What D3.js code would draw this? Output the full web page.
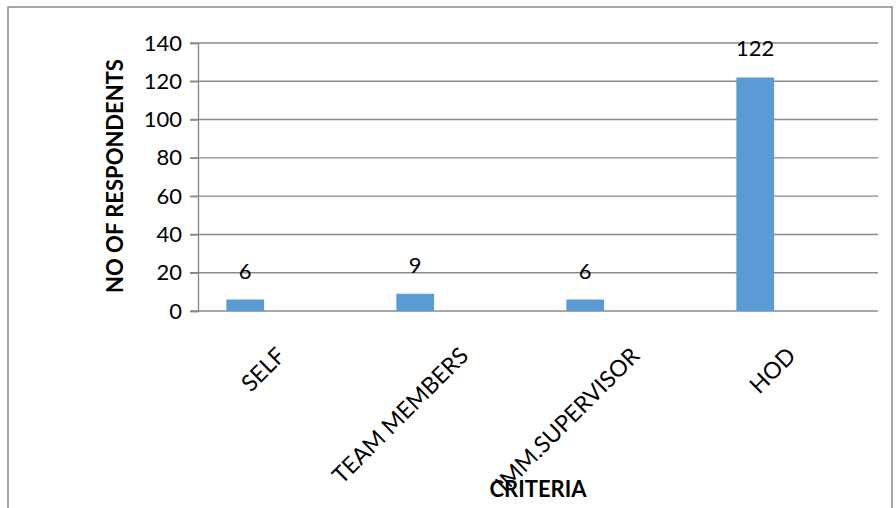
<!DOCTYPE html>
<html>
<head>
<meta charset="utf-8">
<script src="https://cdn.jsdelivr.net/npm/d3@7"></script>
<style>
  body { margin: 0; background: #fff; }
  text { font-family: Lato, "Open Sans", sans-serif; fill: #000; }
</style>
</head>
<body>
<div id="chart"></div>
<script>
// chart data
const categories = ["SELF", "TEAM MEMBERS", "IMM.SUPERVISOR", "HOD"];
const respondents = [6, 9, 6, 122];
const yTicks = [0, 20, 40, 60, 80, 100, 120, 140];
const yTitle = "NO OF RESPONDENTS";
const xTitle = "CRITERIA";

const W = 896, H = 508;
const plot = {left: 198, right: 878, top: 43, bottom: 311};

const svg = d3.select("#chart").append("svg")
    .attr("width", W)
    .attr("height", H);

// outer frame (runs off the right and bottom of the picture)
svg.append("rect")
    .attr("x", 8).attr("y", 7)
    .attr("width", 884).attr("height", 520)
    .attr("fill", "none")
    .attr("stroke", "#8a8a8a")
    .attr("stroke-width", 1.5);

const xScale = d3.scaleBand()
    .domain(categories)
    .range([plot.left, plot.right]);

const yScale = d3.scaleLinear()
    .domain([0, 140])
    .range([plot.bottom, plot.top]);

// gridlines + tick marks
svg.append("g")
    .selectAll("line")
    .data(yTicks)
    .join("line")
    .attr("x1", plot.left - 8)
    .attr("x2", plot.right)
    .attr("y1", d => yScale(d))
    .attr("y2", d => yScale(d))
    .attr("stroke", "#8a8a8a")
    .attr("stroke-width", 1.4);

// y axis
const yAxis = svg.append("g")
    .attr("transform", `translate(${plot.left},0)`)
    .call(d3.axisLeft(yScale).tickValues(yTicks).tickSize(8).tickPadding(8));
yAxis.select(".domain").attr("stroke", "#8a8a8a").attr("stroke-width", 1.4);
yAxis.selectAll(".tick line").attr("stroke", "#8a8a8a").attr("stroke-width", 1.4);
yAxis.selectAll(".tick text")
    .attr("font-size", 22)
    .attr("font-family", "Lato, sans-serif")
    .attr("fill", "#000");

// bars: Excel style, gap 150% with the series sitting in the first of 3 slots
const slotW = xScale.bandwidth() / 4.5;
const barX = d => xScale(d) + slotW * 0.75;

svg.append("g")
    .selectAll("rect")
    .data(categories)
    .join("rect")
    .attr("x", d => barX(d))
    .attr("width", slotW)
    .attr("y", (d, i) => yScale(respondents[i]))
    .attr("height", (d, i) => yScale(0) - yScale(respondents[i]))
    .attr("fill", "#5b9bd5");

// value labels
svg.append("g")
    .selectAll("text")
    .data(categories)
    .join("text")
    .attr("x", d => barX(d) + slotW / 2)
    .attr("y", (d, i) => yScale(respondents[i]) - 21)
    .attr("text-anchor", "middle")
    .attr("font-size", 22)
    .text((d, i) => respondents[i]);

// category labels, rotated; longer labels sit a little further right, like Excel
const catLabels = svg.append("g")
    .selectAll("text")
    .data(categories)
    .join("text")
    .attr("text-anchor", "end")
    .attr("dy", "0.75em")
    .attr("font-size", 23)
    .text(d => d);

catLabels.attr("transform", function(d) {
  const len = this.getComputedTextLength();
  const cx = xScale(d) + xScale.bandwidth() / 2 - 8 + 0.1 * (len - 55);
  return `translate(${cx},345) rotate(-45)`;
});

// axis titles
svg.append("text")
    .attr("transform", "translate(123,176) rotate(-90)")
    .attr("text-anchor", "middle")
    .attr("font-size", 22)
    .attr("font-weight", "bold")
    .text(yTitle);

svg.append("text")
    .attr("x", 538)
    .attr("y", 497)
    .attr("text-anchor", "middle")
    .attr("font-size", 22)
    .attr("font-weight", "bold")
    .text(xTitle);
</script>
</body>
</html>
